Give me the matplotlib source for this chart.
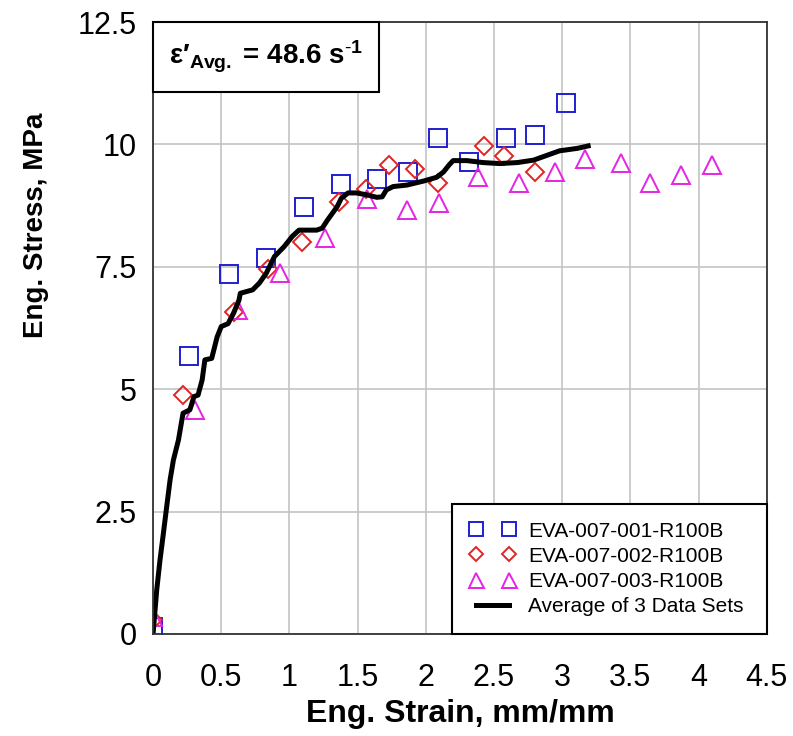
import matplotlib
matplotlib.use("Agg")
import matplotlib.pyplot as plt
from matplotlib.patches import Rectangle

plt.rcParams["font.family"] = ["Liberation Sans", "DejaVu Sans"]
plt.rcParams["mathtext.fontset"] = "custom"
plt.rcParams["mathtext.rm"] = "Liberation Sans"
plt.rcParams["mathtext.bf"] = "Liberation Sans:bold"
plt.rcParams["mathtext.it"] = "Liberation Sans:italic"

# specimen 001 (blue squares)
strain_001 = [0.0, 0.26, 0.56, 0.83, 1.11, 1.38, 1.64, 1.87, 2.09, 2.32, 2.59, 2.80, 3.03]
stress_001 = [0.14, 5.68, 7.35, 7.68, 8.72, 9.19, 9.29, 9.44, 10.13, 9.64, 10.13, 10.19, 10.85]

# specimen 002 (red diamonds)
strain_002 = [0.0, 0.22, 0.59, 0.84, 1.09, 1.36, 1.56, 1.73, 1.92, 2.09, 2.43, 2.57, 2.80]
stress_002 = [0.28, 4.88, 6.58, 7.45, 8.01, 8.82, 9.09, 9.58, 9.50, 9.22, 9.97, 9.76, 9.44]

# specimen 003 (magenta triangles)
strain_003 = [0.0, 0.31, 0.62, 0.93, 1.26, 1.57, 1.86, 2.10, 2.38, 2.68, 2.95, 3.17, 3.43, 3.64, 3.87, 4.10]
stress_003 = [0.35, 4.58, 6.62, 7.37, 8.09, 8.88, 8.66, 8.80, 9.33, 9.21, 9.44, 9.70, 9.62, 9.21, 9.37, 9.58]

# average of the three data sets (black line)
avg_strain = [0.0, 0.027, 0.051, 0.076, 0.10, 0.125, 0.149, 0.186, 0.22, 0.27, 0.30, 0.33,
              0.36, 0.38, 0.43, 0.47, 0.50, 0.55, 0.59, 0.63, 0.64, 0.73, 0.78, 0.83,
              0.89, 0.96, 1.02, 1.07, 1.20, 1.24, 1.28, 1.35, 1.38, 1.43, 1.49, 1.57,
              1.64, 1.68, 1.71, 1.76, 1.86, 1.98, 2.08, 2.13, 2.17, 2.20, 2.30, 2.42,
              2.54, 2.67, 2.79, 2.89, 2.98, 3.11, 3.19]
avg_stress = [0.0, 0.90, 1.51, 2.06, 2.60, 3.15, 3.55, 3.96, 4.51, 4.58, 4.85, 4.88,
              5.19, 5.60, 5.63, 6.07, 6.28, 6.34, 6.55, 6.82, 6.96, 7.03, 7.17, 7.37,
              7.71, 7.91, 8.12, 8.25, 8.25, 8.29, 8.46, 8.73, 8.90, 9.01, 9.01, 8.97,
              8.92, 8.93, 9.07, 9.14, 9.17, 9.25, 9.33, 9.44, 9.58, 9.67, 9.67, 9.63,
              9.61, 9.63, 9.68, 9.78, 9.87, 9.92, 9.97]

labels = ["EVA-007-001-R100B", "EVA-007-002-R100B", "EVA-007-003-R100B",
          "Average of 3 Data Sets"]
x_ticks = [0, 0.5, 1, 1.5, 2, 2.5, 3, 3.5, 4, 4.5]
x_tick_labels = ["0", "0.5", "1", "1.5", "2", "2.5", "3", "3.5", "4", "4.5"]
y_ticks = [0, 2.5, 5, 7.5, 10, 12.5]
y_tick_labels = ["0", "2.5", "5", "7.5", "10", "12.5"]

fig = plt.figure(figsize=(7.93, 7.36), dpi=100)
ax = fig.add_axes([0.193, 0.1386, 0.774, 0.8314])

ax.plot(strain_001, stress_001, linestyle="none", marker="s", markersize=12.5,
        markerfacecolor="none", markeredgecolor="#1f1fd0", markeredgewidth=1.4, label=labels[0])
ax.plot(strain_002, stress_002, linestyle="none", marker="D", markersize=9.5,
        markerfacecolor="none", markeredgecolor="#e02424", markeredgewidth=1.4, label=labels[1])
ax.plot(strain_003, stress_003, linestyle="none", marker="^", markersize=13.5,
        markerfacecolor="none", markeredgecolor="#e524e5", markeredgewidth=1.4, label=labels[2])
ax.plot(avg_strain, avg_stress, color="black", linewidth=3.6, label=labels[3])

ax.set_xlim(0, 4.5)
ax.set_ylim(0, 12.5)
ax.set_xticks(x_ticks)
ax.set_xticklabels(x_tick_labels)
ax.set_yticks(y_ticks)
ax.set_yticklabels(y_tick_labels)
ax.tick_params(length=0, labelsize=22)
ax.tick_params(axis="x", pad=21)
ax.tick_params(axis="y", pad=12)
ax.grid(True, color="#c4c4c4", linewidth=1.2)
ax.set_axisbelow(True)
for sp in ax.spines.values():
    sp.set_linewidth(1.3)
    sp.set_color("#333333")

ax.set_xlabel("Eng. Strain, mm/mm", fontsize=23, fontweight="bold", labelpad=4)
ax.set_ylabel("Eng. Stress, MPa", fontsize=20, fontweight="bold")
ax.yaxis.set_label_coords(-0.17, 0.668)

# strain-rate box in upper left corner
ax.add_patch(Rectangle((0, 0.886), 0.368, 0.114, transform=ax.transAxes,
                       facecolor="white", edgecolor="black", linewidth=1.5, zorder=5,
                       clip_on=False))
ax.text(0.184, 0.943, "ε′$_{\\mathbf{Avg.}}$ = 48.6 s$^{\\mathbf{\\text{-}1}}$",
        transform=ax.transAxes, ha="center", va="center", fontsize=20,
        fontweight="bold", zorder=6)

leg = ax.legend(loc="lower left", bbox_to_anchor=(0.487, 0.0, 0.513, 0.2),
                mode="expand", borderaxespad=0, numpoints=2, markerscale=0.8,
                fontsize=15, handlelength=2.2, handletextpad=0.6, labelspacing=0.3,
                borderpad=0.85, fancybox=False, framealpha=1)
leg.get_frame().set_edgecolor("black")
leg.get_frame().set_linewidth(1.5)

fig.savefig("out.png", dpi=100)
